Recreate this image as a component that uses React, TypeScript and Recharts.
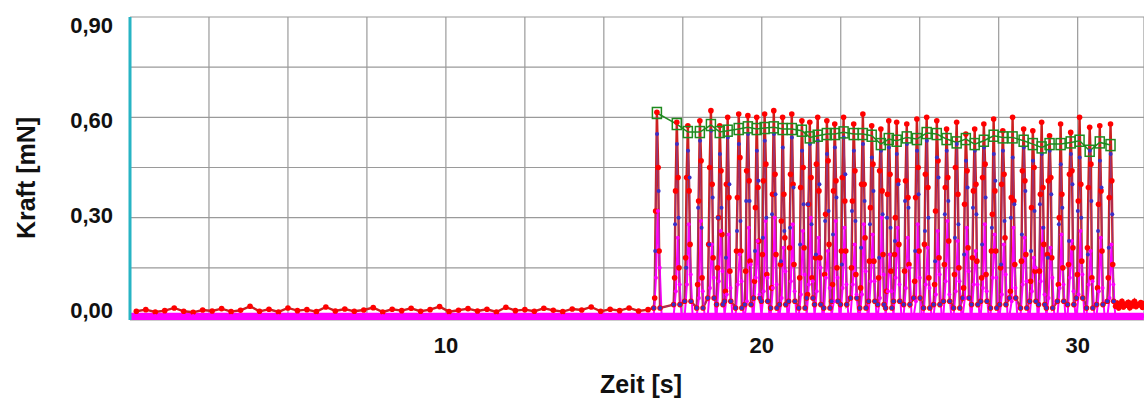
import {
  CartesianGrid,
  Label,
  Line,
  LineChart,
  ReferenceArea,
  ReferenceLine,
  XAxis,
  YAxis,
} from "recharts";

const FONT = '"Liberation Sans", Arial, Helvetica, sans-serif';

const X_TICKS = [0, 2.5, 5, 7.5, 10, 12.5, 15, 17.5, 20, 22.5, 25, 27.5, 30];
const X_LABELLED = [10, 20, 30];
const Y_TICKS = [0, 0.15, 0.3, 0.45, 0.6, 0.75, 0.9];
const Y_LABELLED = [0, 0.3, 0.6, 0.9];

// resting signal before the stimulation train (s, mN)
const PRE_START = 0.2;
const PRE_STEP = 0.3;
const preRed = [
  0.02, 0.025, 0.018, 0.022, 0.03, 0.02, 0.017, 0.024, 0.021, 0.028,
  0.019, 0.023, 0.035, 0.02, 0.026, 0.018, 0.03, 0.022, 0.025, 0.019,
  0.033, 0.021, 0.027, 0.02, 0.024, 0.031, 0.018, 0.026, 0.022, 0.029,
  0.02, 0.025, 0.034, 0.019, 0.023, 0.028, 0.021, 0.026, 0.018, 0.032,
  0.022, 0.025, 0.02, 0.029, 0.023, 0.019, 0.027, 0.024, 0.033, 0.02,
  0.026, 0.022, 0.03, 0.021, 0.025,
];

// signal after the train
const POST_START = 31.2;
const POST_STEP = 0.05;
const postRed = [
  0.035, 0.045, 0.03, 0.04, 0.05, 0.033, 0.042, 0.038, 0.047, 0.031,
  0.044, 0.036, 0.05, 0.034, 0.041, 0.039, 0.046, 0.032, 0.043,
];

const MAGENTA_REST = 0.006;

// one entry per contraction
const peakTimes = [
  16.68, 17.31, 17.66, 18.04, 18.39, 18.67, 18.92, 19.27, 19.56, 19.84,
  20.09, 20.38, 20.66, 20.95, 21.27, 21.52, 21.77, 22.06, 22.31, 22.59,
  22.91, 23.2, 23.48, 23.77, 24.02, 24.27, 24.59, 24.91, 25.22, 25.54,
  25.85, 26.17, 26.46, 26.74, 27.03, 27.34, 27.63, 27.94, 28.29, 28.58,
  28.86, 29.11, 29.46, 29.78, 30.06, 30.38, 30.7, 31.04,
];
const redLow = [
  0.03, 0.04, 0.05, 0.03, 0.06, 0.04, 0.05, 0.03, 0.04, 0.06,
  0.05, 0.03, 0.04, 0.05, 0.03, 0.06, 0.04, 0.03, 0.05, 0.04,
  0.06, 0.03, 0.05, 0.04, 0.03, 0.05, 0.04, 0.06, 0.03, 0.04,
  0.05, 0.03, 0.06, 0.04, 0.05, 0.03, 0.04, 0.06, 0.03, 0.05,
  0.04, 0.03, 0.05, 0.04, 0.06, 0.03, 0.04, 0.05,
];
const redRiseA = [
  0.06, 0.12, 0.18, 0.1, 0.22, 0.15, 0.08, 0.2, 0.14, 0.11,
  0.19, 0.09, 0.16, 0.21, 0.12, 0.07, 0.18, 0.13, 0.1, 0.2,
  0.15, 0.09, 0.17, 0.12, 0.08, 0.19, 0.14, 0.11, 0.22, 0.1,
  0.16, 0.13, 0.09, 0.18, 0.12, 0.2, 0.15, 0.08, 0.17, 0.11,
  0.14, 0.19, 0.1, 0.16, 0.13, 0.21, 0.09, 0.12,
];
const redRiseB = [
  0.32, 0.38, 0.42, 0.35, 0.45, 0.3, 0.4, 0.36, 0.44, 0.33,
  0.41, 0.37, 0.29, 0.43, 0.39, 0.34, 0.46, 0.31, 0.38, 0.42,
  0.35, 0.4, 0.33, 0.44, 0.37, 0.3, 0.41, 0.36, 0.43, 0.32,
  0.39, 0.45, 0.34, 0.38, 0.42, 0.31, 0.4, 0.36, 0.44, 0.33,
  0.37, 0.41, 0.3, 0.43, 0.35, 0.39, 0.34, 0.36,
];
const redPeak = [
  0.615, 0.585, 0.575, 0.59, 0.62, 0.575, 0.6, 0.61, 0.605, 0.6,
  0.61, 0.62, 0.6, 0.61, 0.59, 0.585, 0.6, 0.59, 0.58, 0.6,
  0.58, 0.61, 0.575, 0.565, 0.59, 0.585, 0.58, 0.595, 0.6, 0.59,
  0.565, 0.585, 0.55, 0.565, 0.58, 0.595, 0.56, 0.6, 0.565, 0.56,
  0.585, 0.545, 0.58, 0.555, 0.6, 0.57, 0.575, 0.58,
];
const redFallA = [
  0.45, 0.42, 0.38, 0.47, 0.4, 0.44, 0.36, 0.48, 0.41, 0.39,
  0.46, 0.43, 0.37, 0.4, 0.45, 0.42, 0.38, 0.47, 0.41, 0.35,
  0.44, 0.4, 0.46, 0.38, 0.43, 0.41, 0.36, 0.45, 0.39, 0.47,
  0.42, 0.37, 0.44, 0.4, 0.46, 0.38, 0.43, 0.35, 0.41, 0.45,
  0.39, 0.42, 0.37, 0.44, 0.4, 0.46, 0.38, 0.41,
];
const redFallB = [
  0.2, 0.15, 0.22, 0.12, 0.18, 0.25, 0.14, 0.2, 0.17, 0.23,
  0.13, 0.19, 0.24, 0.16, 0.21, 0.12, 0.18, 0.22, 0.15, 0.2,
  0.13, 0.24, 0.17, 0.19, 0.14, 0.22, 0.16, 0.2, 0.12, 0.18,
  0.23, 0.15, 0.21, 0.17, 0.13, 0.2, 0.24, 0.16, 0.19, 0.14,
  0.22, 0.18, 0.15, 0.21, 0.17, 0.12, 0.2, 0.16,
];
const magentaRise = [
  0.12, 0.08, 0.1, 0.06, 0.09, 0.11, 0.07, 0.1, 0.05, 0.12,
  0.08, 0.09, 0.06, 0.11, 0.07, 0.1, 0.08, 0.12, 0.05, 0.09,
  0.1, 0.07, 0.11, 0.06, 0.08, 0.12, 0.09, 0.05, 0.1, 0.07,
  0.11, 0.08, 0.06, 0.1, 0.09, 0.12, 0.07, 0.05, 0.1, 0.08,
  0.11, 0.06, 0.09, 0.12, 0.07, 0.1, 0.08, 0.06,
];
const magentaPeak = [
  0.32, 0.24, 0.28, 0.29, 0.22, 0.26, 0.25, 0.19, 0.27, 0.23,
  0.29, 0.3, 0.21, 0.28, 0.26, 0.3, 0.24, 0.2, 0.29, 0.27,
  0.22, 0.28, 0.25, 0.3, 0.19, 0.27, 0.24, 0.28, 0.21, 0.26,
  0.29, 0.23, 0.27, 0.2, 0.28, 0.25, 0.22, 0.27, 0.24, 0.18,
  0.27, 0.21, 0.25, 0.23, 0.26, 0.2, 0.24, 0.22,
];
const magentaFall = [
  0.15, 0.1, 0.13, 0.08, 0.12, 0.14, 0.09, 0.11, 0.16, 0.07,
  0.12, 0.1, 0.14, 0.08, 0.13, 0.11, 0.15, 0.09, 0.12, 0.1,
  0.07, 0.14, 0.11, 0.13, 0.08, 0.1, 0.15, 0.12, 0.09, 0.13,
  0.07, 0.11, 0.14, 0.1, 0.08, 0.12, 0.13, 0.09, 0.11, 0.15,
  0.07, 0.12, 0.1, 0.08, 0.13, 0.11, 0.09, 0.1,
];
const blueUp = [
  0.2, 0.28, 0.15, 0.33, 0.22, 0.3, 0.18, 0.26, 0.35, 0.2,
  0.24, 0.31, 0.17, 0.27, 0.22, 0.34, 0.19, 0.29, 0.25, 0.16,
  0.32, 0.21, 0.28, 0.18, 0.3, 0.23, 0.35, 0.2, 0.26, 0.17,
  0.31, 0.24, 0.19, 0.33, 0.22, 0.27, 0.16, 0.3, 0.25, 0.2,
  0.34, 0.18, 0.28, 0.23, 0.32, 0.19, 0.26, 0.21,
];
const bluePeak = [
  0.55, 0.52, 0.5, 0.53, 0.56, 0.49, 0.54, 0.52, 0.55, 0.5,
  0.53, 0.55, 0.51, 0.54, 0.5, 0.52, 0.53, 0.49, 0.51, 0.54,
  0.5, 0.52, 0.48, 0.5, 0.51, 0.49, 0.52, 0.5, 0.53, 0.48,
  0.5, 0.52, 0.47, 0.5, 0.51, 0.49, 0.5, 0.48, 0.51, 0.47,
  0.49, 0.5, 0.46, 0.49, 0.48, 0.5, 0.47, 0.49,
];
const blueDown = [
  0.38, 0.3, 0.42, 0.27, 0.36, 0.33, 0.4, 0.29, 0.35, 0.41,
  0.3, 0.37, 0.26, 0.39, 0.34, 0.28, 0.4, 0.32, 0.36, 0.43,
  0.29, 0.35, 0.38, 0.31, 0.27, 0.4, 0.33, 0.37, 0.3, 0.42,
  0.35, 0.28, 0.39, 0.31, 0.36, 0.41, 0.29, 0.34, 0.38, 0.32,
  0.27, 0.37, 0.33, 0.4, 0.3, 0.35, 0.39, 0.31,
];
// detected maxima (green boxes)
const greenPeak = [
  0.613, 0.58, 0.556, 0.556, 0.577, 0.556, 0.56, 0.565, 0.57, 0.565,
  0.568, 0.57, 0.565, 0.565, 0.56, 0.54, 0.545, 0.55, 0.55, 0.555,
  0.55, 0.55, 0.545, 0.52, 0.535, 0.53, 0.54, 0.535, 0.553, 0.55,
  0.535, 0.525, 0.535, 0.52, 0.53, 0.545, 0.54, 0.54, 0.53, 0.52,
  0.51, 0.52, 0.52, 0.525, 0.53, 0.5, 0.525, 0.517,
];

type Row = { t: number; [key: string]: number };

function buildRows(): Row[] {
  const map = new Map<string, Row>();
  const put = (t: number, key: string, v: number) => {
    const k = t.toFixed(3);
    const row = map.get(k) ?? { t: Number(k) };
    row[key] = v;
    map.set(k, row);
  };
  preRed.forEach((v, i) => {
    const t = PRE_START + i * PRE_STEP;
    put(t, "red", v);
    put(t, "magenta", MAGENTA_REST);
  });
  peakTimes.forEach((p, i) => {
    put(p - 0.1, "red", redLow[i]);
    put(p - 0.07, "red", redRiseA[i]);
    put(p - 0.04, "red", redRiseB[i]);
    put(p, "red", redPeak[i]);
    put(p + 0.04, "red", redFallA[i]);
    put(p + 0.07, "red", redFallB[i]);
    put(p + 0.1, "red", redLow[i]);

    // the magenta trace lags slightly and has a broader base
    put(p - 0.1, "magenta", MAGENTA_REST);
    put(p - 0.03, "magenta", magentaRise[i]);
    put(p + 0.03, "magenta", magentaPeak[i]);
    put(p + 0.09, "magenta", magentaFall[i]);
    put(p + 0.15, "magenta", MAGENTA_REST);

    put(p - 0.1, "blue", redLow[i]);
    put(p - 0.055, "blue", blueUp[i]);
    put(p + 0.005, "blue", bluePeak[i]);
    put(p + 0.055, "blue", blueDown[i]);
    put(p + 0.1, "blue", redLow[i]);

    put(p, "green", greenPeak[i]);
  });
  postRed.forEach((v, i) => {
    const t = POST_START + i * POST_STEP;
    put(t, "red", v);
    put(t, "magenta", MAGENTA_REST);
  });
  return [...map.values()].sort((a, b) => a.t - b.t);
}

const rows = buildRows();

const fmt = (v: number) => v.toFixed(2).replace(".", ",");

function YTick(props: any) {
  const { x, y, payload } = props;
  const v = payload.value;
  if (!Y_LABELLED.some((l) => Math.abs(l - v) < 1e-6)) return <g />;
  // the original labels sit a little closer together than the grid
  const shift = (v - 0.45) * 17.8;
  return (
    <text
      x={x}
      y={y + shift}
      dy="0.36em"
      textAnchor="end"
      fontFamily={FONT}
      fontWeight="bold"
      fontSize={22}
      fill="#111"
    >
      {fmt(v)}
    </text>
  );
}

function XTick(props: any) {
  const { x, y, payload } = props;
  if (!X_LABELLED.includes(payload.value)) return <g />;
  return (
    <text
      x={x}
      y={y}
      dy="0.71em"
      textAnchor="middle"
      fontFamily={FONT}
      fontWeight="bold"
      fontSize={22}
      fill="#111"
    >
      {payload.value}
    </text>
  );
}

function GreenBox(props: any) {
  const { cx, cy } = props;
  if (cx == null || cy == null || Number.isNaN(cy)) return <g />;
  return (
    <rect
      x={cx - 4.5}
      y={cy - 5.5}
      width={9}
      height={11}
      fill="none"
      stroke="#1f8a1f"
      strokeWidth={1.5}
    />
  );
}

export default function App() {
  return (
    <div
      style={{
        position: "absolute",
        left: 0,
        top: 0,
        width: 1144,
        height: 399,
        background: "#fff",
      }}
    >
      <LineChart
        width={1144}
        height={399}
        data={rows}
        margin={{ top: 17, right: 0, left: 0, bottom: 0 }}
      >
        <CartesianGrid stroke="#9a9a9a" strokeWidth={1.2} />
        <ReferenceArea
          x1={0}
          x2={32.09}
          y1={-0.006}
          y2={0.016}
          fill="#ff00ff"
          fillOpacity={1}
          stroke="none"
        />
        <XAxis
          dataKey="t"
          type="number"
          domain={[0, 32.09]}
          ticks={X_TICKS}
          interval={0}
          height={79}
          axisLine={false}
          tickLine={false}
          tickSize={0}
          tickMargin={17}
          tick={XTick}
        >
          <Label
            content={() => (
              <text
                x={641}
                y={384}
                dy="0.36em"
                textAnchor="middle"
                fontFamily={FONT}
                fontWeight="bold"
                fontSize={25}
                fill="#111"
              >
                Zeit [s]
              </text>
            )}
          />
        </XAxis>
        <YAxis
          type="number"
          domain={[-0.006, 0.9]}
          ticks={Y_TICKS}
          interval={0}
          width={130}
          axisLine={false}
          tickLine={false}
          tickSize={0}
          tickMargin={17}
          tick={YTick}
        >
          <Label
            content={() => (
              <text
                x={26}
                y={178}
                dy="0.36em"
                textAnchor="middle"
                transform="rotate(-90 26 178)"
                fontFamily={FONT}
                fontWeight="bold"
                fontSize={25}
                fill="#111"
              >
                Kraft [mN]
              </text>
            )}
          />
        </YAxis>
        <ReferenceLine x={0} stroke="#27b4c4" strokeWidth={3} />
        <Line
          dataKey="red"
          type="linear"
          stroke="#cc2020"
          strokeWidth={2.4}
          dot={{ r: 2.8, fill: "#ff0000", stroke: "none" }}
          connectNulls
          isAnimationActive={false}
        />
        <Line
          dataKey="magenta"
          type="linear"
          stroke="#ff00ff"
          strokeWidth={2}
          dot={{ r: 2, fill: "#ff00ff", stroke: "none" }}
          connectNulls
          isAnimationActive={false}
        />
        <Line
          dataKey="blue"
          type="linear"
          stroke="#8a3a8a"
          strokeWidth={0.8}
          dot={{ r: 2, fill: "#3a2fc8", stroke: "none" }}
          connectNulls
          isAnimationActive={false}
        />
        <Line
          dataKey="green"
          type="linear"
          stroke="#1f8a1f"
          strokeWidth={1.5}
          dot={GreenBox}
          connectNulls
          isAnimationActive={false}
        />
      </LineChart>
    </div>
  );
}
